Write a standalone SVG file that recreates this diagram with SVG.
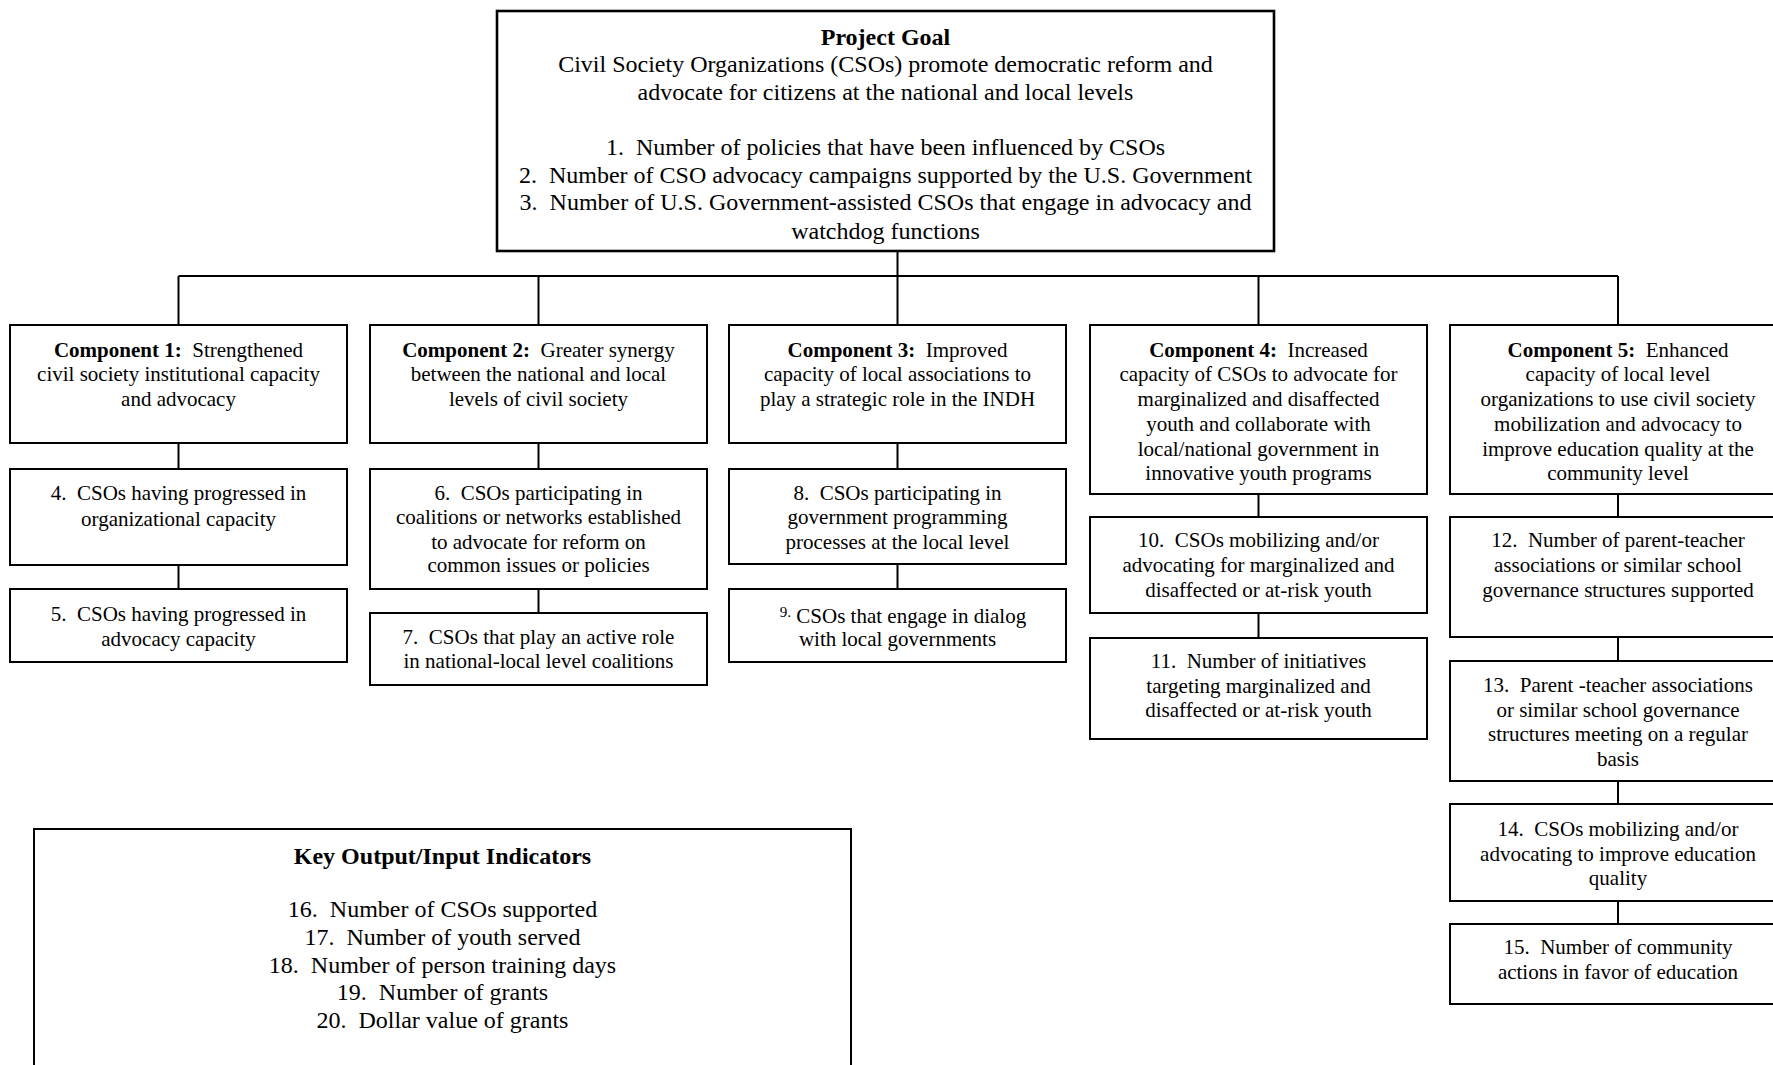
<svg xmlns="http://www.w3.org/2000/svg" width="1773" height="1065" viewBox="0 0 1773 1065">
<style>
text{font-family:"Liberation Serif","Times New Roman",serif;fill:#000;text-anchor:middle;white-space:pre}
.g{font-size:24px}
.c{font-size:21px}
.b{font-weight:bold}
rect{fill:#fff;stroke:#000;stroke-width:2}
#goal rect{stroke-width:2.6}
#connectors path{fill:none;stroke:#000;stroke-width:2}
</style>
<rect x="0" y="0" width="1773" height="1065" style="stroke:none"/>
<g id="connectors">
<path d="M897.5 251V276M178.5 276H1618M178.5 276V325M538.5 276V325M897.5 276V325M1258.5 276V325M1618 276V325"/>
<path d="M178.5 443V469M178.5 565V589"/>
<path d="M538.5 443V469M538.5 589V613"/>
<path d="M897.5 443V469M897.5 563V589"/>
<path d="M1258.5 494V517M1258.5 613V638"/>
<path d="M1618 494V517M1618 637V661M1618 781V804M1618 901V924"/>
</g>
<g id="goal">
<rect x="497" y="11" width="777" height="240"/>
<text class="g b" x="885.5" y="45">Project Goal</text>
<text class="g" x="885.5" y="72">Civil Society Organizations (CSOs) promote democratic reform and</text>
<text class="g" x="885.5" y="100">advocate for citizens at the national and local levels</text>
<text class="g" x="885.5" y="155">1.  Number of policies that have been influenced by CSOs</text>
<text class="g" x="885.5" y="183">2.  Number of CSO advocacy campaigns supported by the U.S. Government</text>
<text class="g" x="885.5" y="210">3.  Number of U.S. Government-assisted CSOs that engage in advocacy and</text>
<text class="g" x="885.5" y="239">watchdog functions</text>
</g>
<g id="comp1">
<rect x="10" y="325" width="337" height="118"/>
<text class="c" x="178.5" y="357"><tspan class="b">Component 1:</tspan>  Strengthened</text>
<text class="c" x="178.5" y="381">civil society institutional capacity</text>
<text class="c" x="178.5" y="406">and advocacy</text>
</g>
<g id="comp2">
<rect x="370" y="325" width="337" height="118"/>
<text class="c" x="538.5" y="357"><tspan class="b">Component 2:</tspan>  Greater synergy</text>
<text class="c" x="538.5" y="381">between the national and local</text>
<text class="c" x="538.5" y="406">levels of civil society</text>
</g>
<g id="comp3">
<rect x="729" y="325" width="337" height="118"/>
<text class="c" x="897.5" y="357"><tspan class="b">Component 3:</tspan>  Improved</text>
<text class="c" x="897.5" y="381">capacity of local associations to</text>
<text class="c" x="897.5" y="406">play a strategic role in the INDH</text>
</g>
<g id="comp4">
<rect x="1090" y="325" width="337" height="169"/>
<text class="c" x="1258.5" y="357"><tspan class="b">Component 4:</tspan>  Increased</text>
<text class="c" x="1258.5" y="381">capacity of CSOs to advocate for</text>
<text class="c" x="1258.5" y="406">marginalized and disaffected</text>
<text class="c" x="1258.5" y="431">youth and collaborate with</text>
<text class="c" x="1258.5" y="456">local/national government in</text>
<text class="c" x="1258.5" y="480">innovative youth programs</text>
</g>
<g id="comp5">
<rect x="1450" y="325" width="336" height="169"/>
<text class="c" x="1618" y="357"><tspan class="b">Component 5:</tspan>  Enhanced</text>
<text class="c" x="1618" y="381">capacity of local level</text>
<text class="c" x="1618" y="406">organizations to use civil society</text>
<text class="c" x="1618" y="431">mobilization and advocacy to</text>
<text class="c" x="1618" y="456">improve education quality at the</text>
<text class="c" x="1618" y="480">community level</text>
</g>
<g id="ind4">
<rect x="10" y="469" width="337" height="96"/>
<text class="c" x="178.5" y="500">4.  CSOs having progressed in</text>
<text class="c" x="178.5" y="526">organizational capacity</text>
</g>
<g id="ind5">
<rect x="10" y="589" width="337" height="73"/>
<text class="c" x="178.5" y="621">5.  CSOs having progressed in</text>
<text class="c" x="178.5" y="646">advocacy capacity</text>
</g>
<g id="ind6">
<rect x="370" y="469" width="337" height="120"/>
<text class="c" x="538.5" y="500">6.  CSOs participating in</text>
<text class="c" x="538.5" y="524">coalitions or networks established</text>
<text class="c" x="538.5" y="549">to advocate for reform on</text>
<text class="c" x="538.5" y="572">common issues or policies</text>
</g>
<g id="ind7">
<rect x="370" y="613" width="337" height="72"/>
<text class="c" x="538.5" y="644">7.  CSOs that play an active role</text>
<text class="c" x="538.5" y="668">in national-local level coalitions</text>
</g>
<g id="ind8">
<rect x="729" y="469" width="337" height="95"/>
<text class="c" x="897.5" y="500">8.  CSOs participating in</text>
<text class="c" x="897.5" y="524">government programming</text>
<text class="c" x="897.5" y="549">processes at the local level</text>
</g>
<g id="ind9">
<rect x="729" y="589" width="337" height="73"/>
<text class="c" x="903" y="623"><tspan font-size="15" dy="-6">9.</tspan><tspan dy="6"> CSOs that engage in dialog</tspan></text>
<text class="c" x="897.5" y="646">with local governments</text>
</g>
<g id="ind10">
<rect x="1090" y="517" width="337" height="96"/>
<text class="c" x="1258.5" y="547">10.  CSOs mobilizing and/or</text>
<text class="c" x="1258.5" y="572">advocating for marginalized and</text>
<text class="c" x="1258.5" y="597">disaffected or at-risk youth</text>
</g>
<g id="ind11">
<rect x="1090" y="638" width="337" height="101"/>
<text class="c" x="1258.5" y="668">11.  Number of initiatives</text>
<text class="c" x="1258.5" y="693">targeting marginalized and</text>
<text class="c" x="1258.5" y="717">disaffected or at-risk youth</text>
</g>
<g id="ind12">
<rect x="1450" y="517" width="336" height="120"/>
<text class="c" x="1618" y="547">12.  Number of parent-teacher</text>
<text class="c" x="1618" y="572">associations or similar school</text>
<text class="c" x="1618" y="597">governance structures supported</text>
</g>
<g id="ind13">
<rect x="1450" y="661" width="336" height="120"/>
<text class="c" x="1618" y="692">13.  Parent -teacher associations</text>
<text class="c" x="1618" y="717">or similar school governance</text>
<text class="c" x="1618" y="741">structures meeting on a regular</text>
<text class="c" x="1618" y="766">basis</text>
</g>
<g id="ind14">
<rect x="1450" y="804" width="336" height="97"/>
<text class="c" x="1618" y="836">14.  CSOs mobilizing and/or</text>
<text class="c" x="1618" y="861">advocating to improve education</text>
<text class="c" x="1618" y="885">quality</text>
</g>
<g id="ind15">
<rect x="1450" y="924" width="336" height="80"/>
<text class="c" x="1618" y="954">15.  Number of community</text>
<text class="c" x="1618" y="979">actions in favor of education</text>
</g>
<g id="key">
<rect x="34" y="829" width="817" height="250"/>
<text class="g b" x="442.5" y="864">Key Output/Input Indicators</text>
<text class="g" x="442.5" y="917">16.  Number of CSOs supported</text>
<text class="g" x="442.5" y="945">17.  Number of youth served</text>
<text class="g" x="442.5" y="973">18.  Number of person training days</text>
<text class="g" x="442.5" y="1000">19.  Number of grants</text>
<text class="g" x="442.5" y="1028">20.  Dollar value of grants</text>
</g>
</svg>
